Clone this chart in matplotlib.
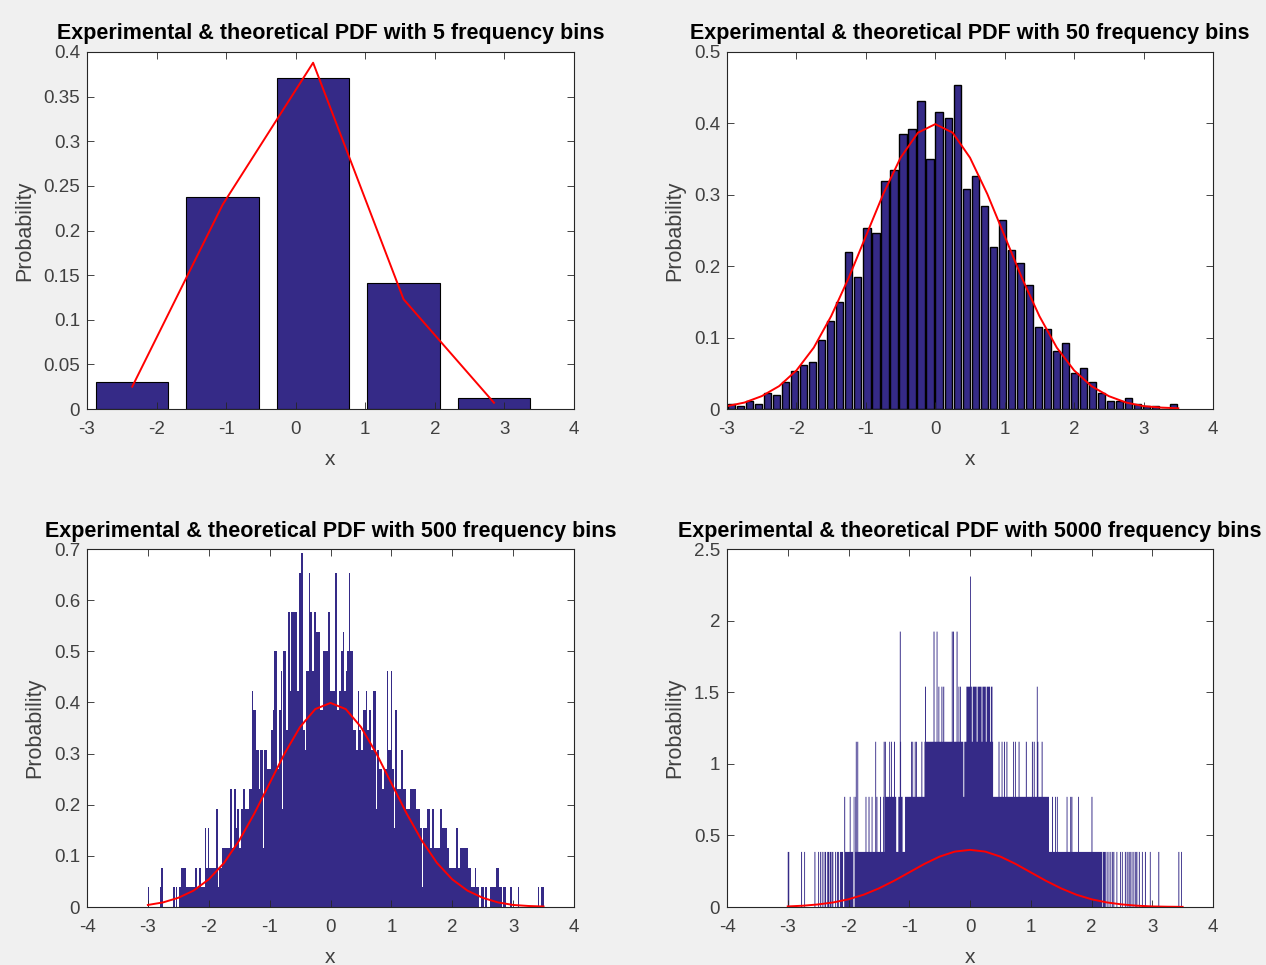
import numpy as np
import matplotlib
matplotlib.use("Agg")
import matplotlib.pyplot as plt

plt.rcParams['font.family'] = ['Liberation Sans', 'DejaVu Sans']
plt.rcParams['axes.unicode_minus'] = False

# ---- data ----
N_SAMPLES = 2000
X_MIN, X_MAX = -3.0, 3.5

# 5 bins
h5 = [0.0303, 0.238, 0.3706, 0.1416, 0.0127]
pdf5_x = [-2.35, -1.05, 0.25, 1.55, 2.85]
pdf5_y = [0.025, 0.229, 0.388, 0.123, 0.007]

# 50 bins (probability per bin)
h50 = [0.0077, 0.0038, 0.0115, 0.0077, 0.0231, 0.0192, 0.0385, 0.0538, 0.0615, 0.0654,
       0.0962, 0.1231, 0.1500, 0.2192, 0.1846, 0.2538, 0.2462, 0.3192, 0.3346, 0.3846,
       0.3923, 0.4308, 0.3500, 0.4154, 0.4077, 0.4538, 0.3077, 0.3269, 0.2846, 0.2269,
       0.2654, 0.2231, 0.2038, 0.1731, 0.1154, 0.1115, 0.0808, 0.0923, 0.0500, 0.0577,
       0.0385, 0.0231, 0.0115, 0.0115, 0.0154, 0.0077, 0.0038, 0.0038, 0.0, 0.0077]

# theoretical curve, read at quarter steps
pdf_x = [-3.0, -2.75, -2.5, -2.25, -2.0, -1.75, -1.5, -1.25, -1.0, -0.75, -0.5, -0.25, 0.0,
         0.25, 0.5, 0.75, 1.0, 1.25, 1.5, 1.75, 2.0, 2.25, 2.5, 2.75, 3.0, 3.25, 3.5]
pdf_y = [0.004, 0.009, 0.018, 0.032, 0.054, 0.086, 0.130, 0.183, 0.242, 0.301, 0.352, 0.387, 0.399,
         0.387, 0.352, 0.301, 0.242, 0.183, 0.130, 0.086, 0.054, 0.032, 0.018, 0.009, 0.004, 0.002, 0.001]

# 500 bins: step profile (start x, sample count) read from the silhouette
p500_x = [-3.000, -2.987, -2.800, -2.774, -2.748, -2.590, -2.564, -2.550, -2.524, -2.490,
          -2.460, -2.370, -2.220, -2.190, -2.160, -2.130, -2.070, -2.057, -2.015, -2.000,
          -1.885, -1.846, -1.833, -1.780, -1.650, -1.624, -1.585, -1.559, -1.533, -1.500,
          -1.470, -1.440, -1.400, -1.340, -1.300, -1.274, -1.235, -1.183, -1.157, -1.105,
          -1.092, -1.053, -0.975, -0.949, -0.923, -0.884, -0.845, -0.819, -0.793, -0.780,
          -0.741, -0.702, -0.676, -0.650, -0.546, -0.520, -0.494, -0.455, -0.429, -0.403,
          -0.364, -0.338, -0.299, -0.273, -0.234, -0.182, -0.130, -0.039, -0.013, 0.078,
          0.104, 0.130, 0.169, 0.195, 0.221, 0.247, 0.273, 0.299, 0.325, 0.364,
          0.416, 0.442, 0.468, 0.494, 0.533, 0.572, 0.598, 0.637, 0.663, 0.702,
          0.741, 0.754, 0.793, 0.845, 0.884, 0.923, 0.949, 0.988, 1.014, 1.040,
          1.053, 1.092, 1.157, 1.196, 1.235, 1.300, 1.404, 1.469, 1.508, 1.521,
          1.586, 1.638, 1.664, 1.690, 1.794, 1.833, 1.911, 1.950, 2.054, 2.093,
          2.132, 2.184, 2.197, 2.249, 2.301, 2.366, 2.392, 2.431, 2.470, 2.522,
          2.535, 2.561, 2.613, 2.717, 2.769, 2.808, 2.834, 2.886, 2.951, 2.977,
          3.081, 3.094, 3.406, 3.419, 3.458]
p500_n = [1, 0, 1, 2, 0, 1, 0, 1, 0, 1,
          2, 1, 2, 1, 2, 1, 4, 2, 4, 2,
          5, 1, 2, 3, 6, 3, 6, 4, 5, 3,
          5, 6, 5, 6, 11, 10, 8, 6, 8, 3,
          8, 7, 9, 10, 13, 7, 10, 12, 5, 13,
          9, 15, 11, 15, 11, 17, 18, 9, 8, 12,
          17, 15, 12, 15, 14, 10, 13, 15, 11, 17,
          10, 11, 13, 14, 11, 12, 13, 17, 13, 9,
          8, 11, 9, 8, 10, 11, 9, 10, 8, 11,
          5, 8, 7, 6, 7, 12, 8, 12, 7, 4,
          10, 6, 8, 6, 5, 6, 5, 4, 1, 4,
          5, 3, 5, 3, 5, 4, 3, 2, 4, 2,
          3, 0, 3, 2, 1, 2, 1, 0, 1, 0,
          1, 0, 1, 2, 1, 0, 1, 0, 1, 0,
          1, 0, 1, 0, 1]

# 5000 bins: count levels (1..6 samples per bin), solid spans, single spikes, dips
lvl1_spans = [(-2.41, -2.40), (-2.39, -2.37), (-2.35, -2.32), (-2.31, -2.28), (-2.27, -2.25),
              (-2.14, -2.09), (-2.06, -1.925), (-1.905, 2.178), (2.19, 2.235)]
lvl1_spikes = [-3.00, -2.99, -2.78, -2.73, -2.56, -2.50, -2.47, -2.44, -2.22, -2.19, -2.17,
               2.25, 2.28, 2.31, 2.34, 2.36, 2.41, 2.47, 2.50, 2.55, 2.58, 2.61, 2.63, 2.66,
               2.69, 2.72, 2.74, 2.78, 2.83, 2.88, 2.96, 3.10, 3.43, 3.475]
lvl2_spans = [(-1.39, -1.215), (-1.18, -1.11), (-1.07, 1.30)]
lvl2_spikes = [-2.07, -1.98, -1.92, -1.90, -1.72, -1.67, -1.62, -1.56, -1.54, -1.48, -1.43,
               1.35, 1.40, 1.43, 1.59, 1.65, 1.67, 1.78, 2.00]
lvl3_spans = [(-0.75, 0.38)]
lvl3_spikes = [-1.88, -1.855, -1.56, -1.42, -1.40, -1.33, -1.30, -1.25, -1.15, -0.97, -0.95,
               -0.91, -0.89, -0.80, 0.47, 0.52, 0.56, 0.60, 0.71, 0.74, 0.80, 0.92, 1.02,
               1.05, 1.11, 1.18]
lvl4_spans = [(-0.06, 0.37)]
lvl4_spikes = [-0.74, -0.55, -0.52, -0.47, -0.44, -0.19, -0.165, 1.10]
lvl5_spikes = [-1.155, -0.60, -0.55, -0.30, -0.28, -0.22]
lvl6_spikes = [0.0]
dips_x = [-0.11, -0.62, -0.50, 0.03, 0.11, 0.19, 0.26, 0.33, -1.20, -1.09, -1.915]
dips_n = [2, 3, 3, 3, 3, 3, 3, 3, 1, 1, 0]

NAVY = '#352a87'
BG = '#f0f0f0'
AX_COL = '#262626'
TXT_COL = '#404040'


def hist_edges(nbins):
    return np.linspace(X_MIN, X_MAX, nbins + 1)


def counts_500(edges):
    c = 0.5 * (edges[:-1] + edges[1:])
    idx = np.searchsorted(p500_x, c, side='right') - 1
    return np.array(p500_n, dtype=float)[np.clip(idx, 0, None)]


def counts_5000(edges, w=0.015):
    c = 0.5 * (edges[:-1] + edges[1:])
    n = np.zeros(len(c))
    groups = [(1, lvl1_spans, lvl1_spikes), (2, lvl2_spans, lvl2_spikes),
              (3, lvl3_spans, lvl3_spikes), (4, lvl4_spans, lvl4_spikes),
              (5, [], lvl5_spikes), (6, [], lvl6_spikes)]
    for lvl, spans, spikes in groups:
        for a, b in spans:
            m = (c >= a) & (c <= b)
            n[m] = np.maximum(n[m], lvl)
        for x in spikes:
            m = (c >= x) & (c < x + w)
            n[m] = np.maximum(n[m], lvl)
    for x, lvl in zip(dips_x, dips_n):
        m = (c >= x) & (c < x + w)
        n[m] = np.minimum(n[m], lvl)
    return n


def style(ax, title, xlim, ylim, yticks):
    ax.set_xlim(*xlim)
    ax.set_ylim(*ylim)
    ax.set_xticks(np.arange(xlim[0], xlim[1] + 1))
    ax.set_yticks(yticks)
    ax.set_yticklabels(['0' if v == 0 else ('%g' % v) for v in yticks])
    ax.tick_params(direction='in', top=True, right=True, length=5, width=0.6,
                   color=AX_COL, labelcolor=TXT_COL, labelsize=13.5)
    ax.tick_params(axis='x', pad=9)
    ax.tick_params(axis='y', pad=5)
    for s in ax.spines.values():
        s.set_color(AX_COL)
        s.set_linewidth(0.8)
    ax.set_title(title, fontsize=15.5, fontweight='bold', pad=9)
    ax.set_xlabel('x', fontsize=15, color=TXT_COL, labelpad=8)
    ax.set_ylabel('Probability', fontsize=15.5, color=TXT_COL, labelpad=6)


fig = plt.figure(figsize=(12.66, 9.65), dpi=100, facecolor=BG)
axs = [fig.add_axes([87 / 1266, 1 - 409 / 965, 487 / 1266, 357 / 965]),
       fig.add_axes([727 / 1266, 1 - 409 / 965, 486 / 1266, 357 / 965]),
       fig.add_axes([87 / 1266, 1 - 907 / 965, 487 / 1266, 358 / 965]),
       fig.add_axes([727 / 1266, 1 - 907 / 965, 486 / 1266, 358 / 965])]

# 5 bins
ax = axs[0]
e = hist_edges(5)
bw = e[1] - e[0]
ax.bar(0.5 * (e[:-1] + e[1:]), h5, width=0.8 * bw, color=NAVY, edgecolor='black', linewidth=0.8)
ax.plot(pdf5_x, pdf5_y, color='red', lw=1.4)
style(ax, 'Experimental & theoretical PDF with 5 frequency bins', (-3, 4), (0, 0.4),
      np.round(np.arange(0, 0.401, 0.05), 2))

# 50 bins
ax = axs[1]
e = hist_edges(50)
bw = e[1] - e[0]
ax.bar(0.5 * (e[:-1] + e[1:]), h50, width=0.8 * bw, color=NAVY, edgecolor='black', linewidth=1.0)
ax.plot(pdf_x, pdf_y, color='red', lw=1.4)
style(ax, 'Experimental & theoretical PDF with 50 frequency bins', (-3, 4), (0, 0.5),
      np.round(np.arange(0, 0.501, 0.1), 1))

# 500 bins
ax = axs[2]
e = hist_edges(500)
bw = e[1] - e[0]
ax.stairs(counts_500(e) / (N_SAMPLES * bw), e, fill=True, color=NAVY, lw=0)
ax.plot(pdf_x, pdf_y, color='red', lw=1.4)
style(ax, 'Experimental & theoretical PDF with 500 frequency bins', (-4, 4), (0, 0.7),
      np.round(np.arange(0, 0.701, 0.1), 1))

# 5000 bins
ax = axs[3]
e = hist_edges(5000)
bw = e[1] - e[0]
ax.stairs(counts_5000(e) / (N_SAMPLES * bw), e, fill=True, color=NAVY, lw=0)
ax.plot(pdf_x, pdf_y, color='red', lw=1.4)
style(ax, 'Experimental & theoretical PDF with 5000 frequency bins', (-4, 4), (0, 2.5),
      np.round(np.arange(0, 2.501, 0.5), 1))

fig.savefig('out.png', dpi=100, facecolor=BG)
